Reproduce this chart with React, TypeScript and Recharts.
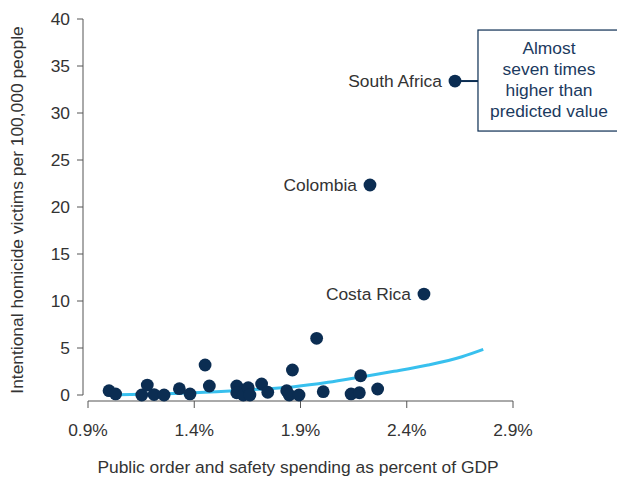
import React from 'react';
import { ComposedChart, Scatter, Line, XAxis, YAxis, ZAxis } from 'recharts';

const spending = [0.999, 1.03, 1.153, 1.179, 1.211, 1.258, 1.33, 1.38, 1.451, 1.471, 1.6, 1.6, 1.631, 1.654, 1.662, 1.717, 1.746, 1.835, 1.847, 1.862, 1.893, 1.976, 2.007, 2.138, 2.177, 2.183, 2.263, 2.481, 2.227, 2.627];
const homicides = [0.46, 0.11, 0.0, 1.06, 0.05, 0.0, 0.67, 0.11, 3.19, 0.96, 0.96, 0.24, 0.0, 0.78, 0.0, 1.17, 0.29, 0.46, 0.0, 2.66, 0.0, 6.03, 0.35, 0.11, 0.24, 2.05, 0.64, 10.74, 22.34, 33.4];
const countryLabels = ['', '', '', '', '', '', '', '', '', '', '', '', '', '', '', '', '', '', '', '', '', '', '', '', '', '', '', 'Costa Rica', 'Colombia', 'South Africa'];

const fitSpending = [0.99, 1.16, 1.4, 1.64, 1.87, 2.03, 2.19, 2.34, 2.5, 2.66, 2.76];
const fitHomicides = [0.0, 0.08, 0.24, 0.53, 0.88, 1.35, 1.95, 2.52, 3.19, 4.07, 4.85];

const xTicks = [0.9, 1.4, 1.9, 2.4, 2.9];
const yTicks = [0, 5, 10, 15, 20, 25, 30, 35, 40];
const annotationLines = ['Almost', 'seven times', 'higher than', 'predicted value'];
const highlighted = 'South Africa';

const points = spending.map((x, i) => ({ x, y: homicides[i], name: countryLabels[i] }));
const fit = fitSpending.map((x, i) => ({ x, fit: fitHomicides[i] }));

const FONT = "'Liberation Sans', Arial, sans-serif";
const FS = 17.4;
const NAVY = '#0b2d52';
const TEXT = '#333333';
const AXIS = '#555555';

const Dot = (props: any) => {
  const { cx, cy, payload } = props;
  const name = payload && payload.name;
  return (
    <g>
      <circle cx={cx} cy={cy} r={6.4} fill={NAVY} />
      {name ? (
        <text x={cx - 13} y={cy} dy="0.35em" textAnchor="end" fontSize={FS} fontFamily={FONT} fill={TEXT}>
          {name}
        </text>
      ) : null}
      {name === highlighted ? (
        <g>
          <line x1={cx + 3} y1={cy} x2={cx + 23} y2={cy} stroke={NAVY} strokeWidth={2} />
          <rect x={cx + 23} y={cy - 51} width={143} height={101} fill="#fff" stroke={NAVY} strokeWidth={1.2} />
          {annotationLines.map((t, i) => (
            <text key={i} x={cx + 94} y={cy - 27 + i * 21} textAnchor="middle" fontSize={FS} fontFamily={FONT} fill="#1b3a5e">
              {t}
            </text>
          ))}
        </g>
      ) : null}
    </g>
  );
};

export default function App() {
  return (
    <div style={{ position: 'absolute', left: 0, top: 0, background: '#fff' }}>
      <ComposedChart width={617} height={481} margin={{ top: 19, right: 104, bottom: 0, left: 0 }}>
        <XAxis
          type="number"
          dataKey="x"
          domain={[0.9, 2.9]}
          ticks={xTicks}
          padding={{ left: 5, right: 0 }}
          height={80}
          tickSize={7}
          tickMargin={16}
          tickFormatter={(v: number) => v.toFixed(1) + '%'}
          tick={{ fill: TEXT, fontSize: FS, fontFamily: FONT }}
          tickLine={{ stroke: AXIS }}
          axisLine={{ stroke: AXIS, strokeDasharray: '0 5 425 40' }}
          label={{ value: 'Public order and safety spending as percent of GDP', position: 'insideBottom', offset: 8, fill: TEXT, fontSize: FS, fontFamily: FONT }}
        />
        <YAxis
          type="number"
          dataKey="y"
          domain={[0, 40]}
          ticks={yTicks}
          padding={{ top: 0, bottom: 6 }}
          width={83}
          tickSize={6}
          tickMargin={7}
          tick={{ fill: TEXT, fontSize: FS, fontFamily: FONT }}
          tickLine={{ stroke: AXIS }}
          axisLine={{ stroke: AXIS, strokeDasharray: '376 40' }}
          label={{ value: 'Intentional homicide victims per 100,000 people', angle: -90, position: 'insideLeft', offset: 17, fill: TEXT, fontSize: FS, fontFamily: FONT, style: { textAnchor: 'middle' } }}
        />
        <ZAxis range={[120, 120]} />
        <Line data={fit} dataKey="fit" type="monotone" stroke="#38c0ee" strokeWidth={3} dot={false} activeDot={false} isAnimationActive={false} />
        <Scatter data={points} dataKey="y" shape={Dot} isAnimationActive={false} />
      </ComposedChart>
    </div>
  );
}
